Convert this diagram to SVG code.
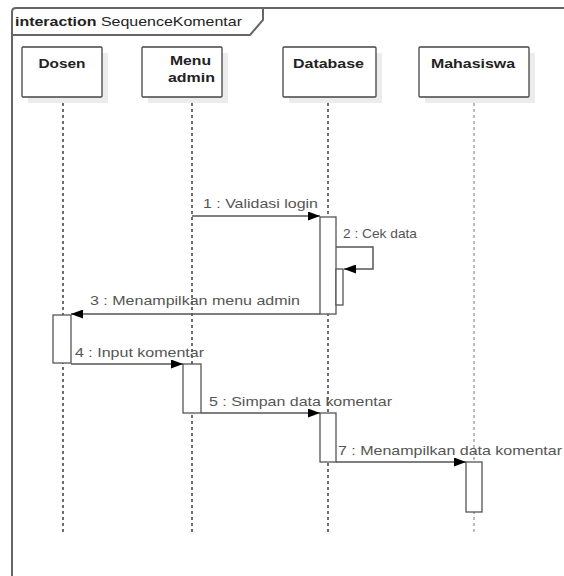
<svg xmlns="http://www.w3.org/2000/svg" width="564" height="576" viewBox="0 0 564 576">
<style>
.frame{fill:none;stroke:#666;stroke-width:2}
.head{fill:#fff;stroke:#444;stroke-width:1.3}
.shadow{fill:#ececec}
.hd{font-family:"Liberation Sans",Arial,sans-serif;font-size:13px;font-weight:bold;fill:#222;text-anchor:middle}
.life{stroke:#222;stroke-width:1.3;stroke-dasharray:3,3;fill:none}
.act{fill:#fff;stroke:#555;stroke-width:1.3}
.msg{stroke:#555;stroke-width:1.5;fill:none}
.lbl{font-family:"Liberation Sans",Arial,sans-serif;font-size:13px;fill:#555}
</style>
<defs>
<marker id="ah" markerWidth="12" markerHeight="9" refX="12" refY="4.5" orient="auto" markerUnits="userSpaceOnUse">
<path d="M0,0 L12,4.5 L0,9 Z" fill="#000"/>
</marker>
</defs>
<rect width="564" height="576" fill="#fff"/>
<g id="frame">
<path class="frame" d="M12,576 L12,12 Q12,8 16,8 L564,8"/>
<path class="frame" d="M12,35 L250,35 L263,20 L263,8"/>
<text x="15" y="26" font-family="Liberation Sans,Arial,sans-serif" font-size="13" fill="#222" textLength="227" lengthAdjust="spacingAndGlyphs"><tspan font-weight="bold">interaction</tspan> SequenceKomentar</text>
</g>
<g id="lifelines">
<line class="life" x1="63" y1="97" x2="63" y2="532"/>
<line class="life" x1="192" y1="97" x2="192" y2="532"/>
<line class="life" x1="328" y1="97" x2="328" y2="532"/>
<line class="life" x1="474" y1="97" x2="474" y2="532" style="stroke:#999"/>
</g>
<g id="dosen">
<rect class="shadow" x="28" y="53" width="80" height="50"/>
<rect class="head" x="22" y="47" width="80" height="50" rx="1"/>
<text class="hd" x="62" y="68" textLength="47" lengthAdjust="spacingAndGlyphs">Dosen</text>
</g>
<g id="menu-admin">
<rect class="shadow" x="148" y="53" width="80" height="50"/>
<rect class="head" x="142" y="47" width="80" height="50" rx="1"/>
<text class="hd" x="190.5" y="65" textLength="41" lengthAdjust="spacingAndGlyphs">Menu</text>
<text class="hd" x="191.5" y="82" textLength="47" lengthAdjust="spacingAndGlyphs">admin</text>
</g>
<g id="database">
<rect class="shadow" x="289" y="53" width="93" height="50"/>
<rect class="head" x="283" y="47" width="93" height="50" rx="1"/>
<text class="hd" x="328.5" y="68" textLength="71" lengthAdjust="spacingAndGlyphs">Database</text>
</g>
<g id="mahasiswa">
<rect class="shadow" x="425" y="53" width="110" height="50"/>
<rect class="head" x="419" y="47" width="110" height="50" rx="1"/>
<text class="hd" x="473" y="68" textLength="84" lengthAdjust="spacingAndGlyphs">Mahasiswa</text>
</g>
<g id="activations">
<rect class="act" x="320" y="217" width="16" height="97"/>
<rect class="act" x="336" y="269" width="7" height="36"/>
<rect class="act" x="53" y="315" width="18" height="48"/>
<rect class="act" x="183" y="364" width="18" height="49"/>
<rect class="act" x="320" y="413" width="16" height="49"/>
<rect class="act" x="466" y="462" width="16" height="50"/>
</g>
<g id="connectors">
<line class="msg" x1="192" y1="216" x2="320" y2="216" marker-end="url(#ah)"/>
<polyline class="msg" points="336,247 373,247 373,269 344,269" marker-end="url(#ah)"/>
<line class="msg" x1="320" y1="314" x2="71" y2="314" marker-end="url(#ah)"/>
<line class="msg" x1="71" y1="364" x2="183" y2="364" marker-end="url(#ah)"/>
<line class="msg" x1="201" y1="413" x2="320" y2="413" marker-end="url(#ah)"/>
<line class="msg" x1="336" y1="462" x2="466" y2="462" marker-end="url(#ah)"/>
</g>
<g id="labels">
<text class="lbl" x="203" y="208" textLength="115" lengthAdjust="spacingAndGlyphs">1 : Validasi login</text>
<text class="lbl" x="343" y="238" textLength="74" lengthAdjust="spacingAndGlyphs">2 : Cek data</text>
<text class="lbl" x="90" y="305" textLength="210" lengthAdjust="spacingAndGlyphs">3 : Menampilkan menu admin</text>
<text class="lbl" x="75" y="357" textLength="129" lengthAdjust="spacingAndGlyphs">4 : Input komentar</text>
<text class="lbl" x="209" y="406" textLength="183" lengthAdjust="spacingAndGlyphs">5 : Simpan data komentar</text>
<text class="lbl" x="338" y="455" textLength="224" lengthAdjust="spacingAndGlyphs">7 : Menampilkan data komentar</text>
</g>
</svg>
